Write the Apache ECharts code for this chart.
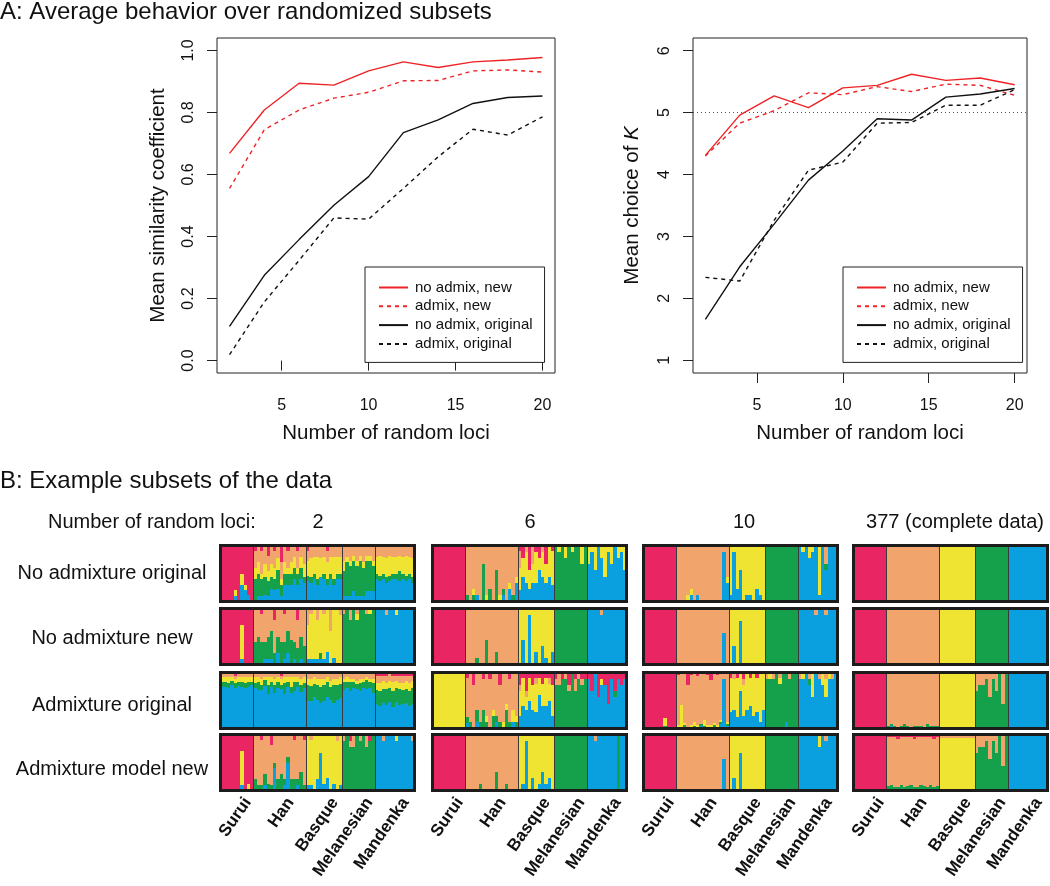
<!DOCTYPE html>
<html>
<head>
<meta charset="utf-8">
<script src="https://cdn.jsdelivr.net/npm/echarts@6/dist/echarts.min.js"></script>
<style>html,body{margin:0;padding:0;background:#fff}#c{width:1050px;height:886px}</style>
</head>
<body>
<div id="c"></div>
<script>
// ================= Panel A data =================
const lociX = [2, 4, 6, 8, 10, 12, 14, 16, 18, 20];
const seriesNames = ['no admix, new', 'admix, new', 'no admix, original', 'admix, original'];
const simNoAdmixNew  = [0.668, 0.808, 0.894, 0.888, 0.934, 0.963, 0.945, 0.963, 0.969, 0.977];
const simAdmixNew    = [0.555, 0.744, 0.808, 0.846, 0.865, 0.902, 0.903, 0.934, 0.937, 0.930];
const simNoAdmixOrig = [0.110, 0.275, 0.390, 0.501, 0.593, 0.735, 0.776, 0.829, 0.848, 0.853];
const simAdmixOrig   = [0.019, 0.189, 0.323, 0.460, 0.456, 0.555, 0.657, 0.746, 0.727, 0.786];
const kNoAdmixNew    = [4.31, 4.96, 5.27, 5.08, 5.40, 5.44, 5.62, 5.52, 5.56, 5.45];
const kAdmixNew      = [4.30, 4.83, 5.03, 5.32, 5.29, 5.42, 5.34, 5.46, 5.44, 5.28];
const kNoAdmixOrig   = [1.66, 2.51, 3.20, 3.91, 4.38, 4.90, 4.88, 5.25, 5.30, 5.39];
const kAdmixOrig     = [2.34, 2.28, 3.26, 4.07, 4.20, 4.83, 4.84, 5.12, 5.12, 5.37];
const xTicks = [5, 10, 15, 20];
const yTicksSim = [0, 0.2, 0.4, 0.6, 0.8, 1.0];
const yTicksK = [1, 2, 3, 4, 5, 6];
const trueK = 5;

// ================= Panel B data =================
const populations = ['Surui', 'Han', 'Basque', 'Melanesian', 'Mandenka'];
const popSizes = [10, 16, 11, 10, 12];
const lociSubsets = ['2', '6', '10', '377 (complete data)'];
const methods = ['No admixture original', 'No admixture new', 'Admixture original', 'Admixture model new'];
// cluster colours in order: Surui(pink), Han(orange), Basque(yellow), Melanesian(green), Mandenka(blue)
const clusterColors = ['#E92563', '#F1A46C', '#EEE431', '#15A04C', '#0AA0E0'];
// membership per individual: 5 base-36 weights [pink,orange,yellow,green,blue], normalised; "*n" = repeat
const mem_2_noAdmixOrig = [
  '90000*4 80101 90000 50203 70102 80001 90000',
  '13240 03241 14131 03231 23231 03222 13222 02232 33121 03223 13123 03223 02224 13123 02224 03213',
  '12314 02313 02314 02413 02304 02314 12313 02314 02413 02314 02314',
  '03251 02161 03161 02162 03161 02171 03151 02162 02162 03152',
  '02314 02414 02314 02313 02414 02314 02314 02324 02314 02414 02314 02313'];
const mem_2_noAdmixNew = [
  '90000*6 30601 90000*3',
  '06040 05050 15040 06031 05041 04051 26020 05032 06040 15031 04042 05040 06031 25030 05041 06030',
  '03601 01801 00901 02701 00811 01801 00702 04600 00801 00900 01800',
  '01090 00090 02080 00090 01180 00090 00090 01090 00190 00090',
  '00009*3 01008 00009*2 00108 00009*5'];
const mem_2_admixOrig = [
  '1233r 1233q 1243r 1223r 2233r 1232q 1233r 1243q 1233r 1232r',
  '1243r 1235p 1343o 1224s 1256m 1233r 1345n 1234q 2243q 1247m 1233r 1264n 1236o 1233r 1345o 1243q',
  '134ai 1349h 1248j 1349i 135ag 134ah 1239j 1448i 134bg 1349i 1249j',
  '1325p 1234r 1326o 1324q 1423p 1335o 1324q 1226q 1324q 1336n',
  '2448e 2459d 2358f 2449e 1448f 245ad 2348f 2449e 2448e 2358f 2459d 2349e'];
const mem_2_admixModelNew = [
  '90000*6 30601 90000 80100 90000',
  '08020 09010 18010 07021 08010 28010 05014 08020 07030 08011 04015 08020 17020 08011 06030 18010',
  '00901 01801 00900 00802 00306 00801 00702 00900 00801 01800 00901',
  '01080 00090 11070 02070 00090 01080 00090 02070 10080 00090',
  '00009*2 01008 00009*3 00108 00009*4 01008'];
const mem_6_noAdmixOrig = [
  '90000*10',
  '08010 09000 07110 08001 09000 03060 08100 07020 09000 04050 08100 07011 09000 06102 08010 05103',
  '13402 20304 01503 40302 03303 10503 20205 01404 30303 00504 10603',
  '00090 00180 00090 00270 00090 00180 00090 00090 00360 00090',
  '00306 00108 00405 00009 00207 00504 00108 00306 00009 00207 00108 00405'];
const mem_6_noAdmixNew = [
  '90000*10',
  '09000*3 08010 09000*2 05040 09000*2 07020 09000*6',
  '00900 00504 00900 00108 00900 00702 00900 00603 00801 00900 00702',
  '00090*10',
  '00009*4 01008 00009*7'];
const mem_6_admixOrig = [
  '00900*10',
  '17011 08010 27000 06021 08010 15030 07110 18000 06120 07011 26010 08100 05130 17010 06201 07110',
  '21402 10504 31203 10405 20403 11503 10306 20404 10504 11305 20502',
  '11070 02070 10080 01080 21060 00090 12060 01080 11070 10080',
  '10008 30006 00009 40005 10107 20007 50004 10008 30015 10008 20007 10008'];
const mem_6_admixModelNew = [
  '90000*10',
  '09000*4 08010 09000*4 06030 09000*2 08010 09000*3',
  '00900 00801 00108 00900 00702 00900 00801 00603 00801 00702 00900',
  '00090*10',
  '00009*2 01008 00009*6 00090 00009*2'];
const mem_10_noAdmixOrig = [
  '90000*10',
  '09000*3 08100 07101 09000 08001 09000*7 01008 05103',
  '00801 00108 00702 00405 00900 00801 00801 00900 00702 00801 00900',
  '00090*10',
  '00009 00108 00009 00207 00108 00009 00801 00009 03015 00009*3'];
const mem_10_noAdmixNew = [
  '90000*10',
  '09000*14 04005 09000',
  '00900 00603 00900 00207 00900*7',
  '00090*10',
  '00009*5 01008 00009*2 01008 00009*3'];
const mem_10_admixOrig = [
  'r0010*6 m0410 r0010*3',
  '1p110 0hb10 0p120 6m000 1p101 0o210 2p110 0p011 0n310 1p110 4o101 0p120 1p101 0n112 01008 0o111',
  '10603 01503 10702 00306 11502 00603 10504 00702 10603 00801 00603',
  '01080 00180 01080 00090 01180 00090 00081 01080 00090 00090',
  '01008 00108 00009 01017 00405 00009 01008 00207 01305 00108 01008 00009'];
const mem_10_admixModelNew = [
  '90000*10',
  '09000*14 04005 09000',
  '00900 00702 00900 00306 00900*7',
  '00090*10',
  '00009*6 00207 00009 01008 00009*3'];
const mem_377_noAdmixOrig = ['90000*10', '09000*16', '00900*11', '00090*10', '00009*12'];
const mem_377_noAdmixNew  = ['90000*10', '09000*16', '00900*11', '00090*10', '00009*12'];
const mem_377_admixOrig = [
  '90000*6 r0010 90000*3',
  '0q010 0p011 0q010 0r000 0q010 0p020 0q010 0r000 0q010 0p010 0q010 0r000 0p020 0q010 0q010 0p010',
  '00900*5 00r10 00900*5',
  '03060 02070 02070 01080 04050 01080 03060 00090 05040 00090',
  '00009*12'];
const mem_377_admixModelNew = [
  '90000*6 r0010 90000*3',
  '1o020 1o030 1p020 2o020 1o030 1p020 1o020 1o030 2o020 1p020 1o030 1o020 1p020 1o030 2o020 1o020',
  '11r10*5 02r10 11r10*5',
  '03060 02070 02070 01080 04050 01080 03060 00090 05040 00090',
  '00009*12'];

const panelRows = [
  [mem_2_noAdmixOrig, mem_6_noAdmixOrig, mem_10_noAdmixOrig, mem_377_noAdmixOrig],
  [mem_2_noAdmixNew, mem_6_noAdmixNew, mem_10_noAdmixNew, mem_377_noAdmixNew],
  [mem_2_admixOrig, mem_6_admixOrig, mem_10_admixOrig, mem_377_admixOrig],
  [mem_2_admixModelNew, mem_6_admixModelNew, mem_10_admixModelNew, mem_377_admixModelNew]];

// ================= build =================
const FONT = '"Liberation Sans", Arial, Helvetica, sans-serif';
const RED = '#EE2326', BLACK = '#111111', INK = '#111';

function parsePop(str) {
  const out = [];
  str.trim().split(/\s+/).forEach(tok => {
    const parts = tok.split('*');
    const n = parts[1] ? parseInt(parts[1], 10) : 1;
    const v = parts[0].split('').map(ch => parseInt(ch, 36));
    const s = v.reduce((a, b) => a + b, 0);
    for (let i = 0; i < n; i++) out.push(v.map(x => x / s));
  });
  return out;
}
function panelItems(mem) {
  const items = [];
  let idx = 0;
  mem.forEach((s, p) => {
    parsePop(s).forEach((q, j) => {
      items.push([idx, q[0], q[1], q[2], q[3], q[4], (p > 0 && j === 0) ? 1 : 0]);
      idx++;
    });
  });
  return items;
}
function makeRender(n) {
  return function (params, api) {
    const i = api.value(0);
    const q = [1, 2, 3, 4, 5].map(d => api.value(d));
    const isStart = api.value(6);
    const cs = params.coordSys;
    const xa = Math.round(api.coord([i, 0])[0]);
    const xb = Math.round(api.coord([i + 1, 0])[0]);
    const order = [4, 3, 2, 1, 0]; // bottom -> top : blue, green, yellow, orange, pink
    const children = [];
    let cum = 0;
    order.forEach((k, m) => {
      const yb = Math.round(api.coord([i, cum])[1]);
      cum += q[k];
      const yt = Math.round(api.coord([i, m === order.length - 1 ? 1 : Math.min(cum, 1)])[1]);
      if (yb - yt > 0) children.push({ type: 'rect',
        shape: { x: xa, y: yt, width: xb - xa, height: yb - yt }, style: { fill: clusterColors[k] } });
    });
    if (isStart) children.push({ type: 'line', shape: { x1: xa + 0.5, y1: cs.y, x2: xa + 0.5, y2: cs.y + cs.height },
      style: { stroke: '#3a3a3a', lineWidth: 1 } });
    if (params.dataIndex === n - 1) children.push({ type: 'rect',
      shape: { x: cs.x, y: cs.y, width: cs.width, height: cs.height },
      style: { fill: 'none', stroke: '#1c1c1c', lineWidth: 3 } });
    return { type: 'group', children: children };
  };
}

const grids = [], xAxes = [], yAxes = [], series = [];
// --- line charts ---
grids.push({ left: 217, top: 38, width: 338, height: 335, show: true, borderColor: '#222', borderWidth: 1 });
grids.push({ left: 693, top: 38, width: 334, height: 335, show: true, borderColor: '#222', borderWidth: 1 });
[0, 1].forEach(g => {
  xAxes.push({ type: 'value', gridIndex: g, min: 1.28, max: 20.72,
    axisLine: { show: false }, splitLine: { show: false },
    axisTick: { show: true, length: 10, customValues: xTicks, lineStyle: { color: '#222', width: 1 } },
    axisLabel: { customValues: xTicks, fontSize: 16, margin: 25, color: INK, fontFamily: FONT },
    name: 'Number of random loci', nameLocation: 'middle', nameGap: 50,
    nameTextStyle: { fontSize: 20.5, color: INK, fontFamily: FONT } });
});
yAxes.push({ type: 'value', gridIndex: 0, min: -0.04, max: 1.04,
  axisLine: { show: false }, splitLine: { show: false },
  axisTick: { show: true, length: 10, customValues: yTicksSim, lineStyle: { color: '#222', width: 1 } },
  axisLabel: { customValues: yTicksSim, formatter: v => Number(v).toFixed(1), rotate: 90, margin: 20,
    fontSize: 16, color: INK, fontFamily: FONT },
  name: 'Mean similarity coefficient', nameLocation: 'middle', nameGap: 48,
  nameTextStyle: { fontSize: 20.5, color: INK, fontFamily: FONT } });
yAxes.push({ type: 'value', gridIndex: 1, min: 0.795, max: 6.205,
  axisLine: { show: false }, splitLine: { show: false },
  axisTick: { show: true, length: 10, customValues: yTicksK, lineStyle: { color: '#222', width: 1 } },
  axisLabel: { customValues: yTicksK, formatter: v => String(Math.round(v)), rotate: 90, margin: 20,
    fontSize: 16, color: INK, fontFamily: FONT },
  name: 'Mean choice of {i|K}', nameLocation: 'middle', nameGap: 50,
  nameTextStyle: { fontSize: 20.5, color: INK, fontFamily: FONT,
    rich: { i: { fontStyle: 'italic', fontSize: 20.5, fontFamily: FONT, color: INK } } } });

const lineStyles = [
  { color: RED, type: 'solid' }, { color: RED, type: [4, 4] },
  { color: BLACK, type: 'solid' }, { color: BLACK, type: [4, 4] }];
const simSets = [simNoAdmixNew, simAdmixNew, simNoAdmixOrig, simAdmixOrig];
const kSets = [kNoAdmixNew, kAdmixNew, kNoAdmixOrig, kAdmixOrig];
[simSets, kSets].forEach((sets, g) => {
  sets.forEach((vals, s) => {
    const ser = { type: 'line', name: seriesNames[s], xAxisIndex: g, yAxisIndex: g,
      data: lociX.map((x, i) => [x, vals[i]]), symbol: 'none', showSymbol: false, silent: true,
      lineStyle: { color: lineStyles[s].color, type: lineStyles[s].type, width: 1.4 },
      itemStyle: { color: lineStyles[s].color }, z: 3 };
    if (g === 1 && s === 0) {
      ser.markLine = { silent: true, symbol: 'none', label: { show: false },
        lineStyle: { type: [1, 3], color: '#555', width: 1 }, data: [{ yAxis: trueK }] };
    }
    series.push(ser);
  });
});

// --- structure panels ---
const colLeft = [220.5, 432.5, 643.5, 853.5];
const panelW = 194;
const rowTop = [545.5, 608.5, 672.5, 734.5];
const panelH = 56;
const popStart = [];
popSizes.reduce((acc, n, i) => { popStart[i] = acc; return acc + n; }, 0);
const labelPos = popSizes.map((n, p) => popStart[p] + n / 2 + 3.3);

panelRows.forEach((row, r) => {
  row.forEach((mem, c) => {
    const gi = grids.length;
    const items = panelItems(mem);
    const n = items.length;
    grids.push({ left: colLeft[c], top: rowTop[r], width: panelW, height: panelH, show: false });
    const bottom = (r === panelRows.length - 1);
    xAxes.push({ type: 'value', gridIndex: gi, min: 0, max: n, show: bottom,
      axisLine: { show: false }, axisTick: { show: false }, splitLine: { show: false },
      axisLabel: { show: bottom, customValues: labelPos,
        formatter: v => { const p = labelPos.findIndex(t => Math.abs(t - v) < 1e-6); return p >= 0 ? populations[p] : ''; },
        rotate: 55, fontSize: 17, fontWeight: 'bold', color: INK, margin: 9, fontFamily: FONT } });
    yAxes.push({ type: 'value', gridIndex: gi, min: 0, max: 1, show: false });
    series.push({ type: 'custom', coordinateSystem: 'cartesian2d', xAxisIndex: gi, yAxisIndex: gi,
      renderItem: makeRender(n), data: items, clip: false, silent: true, z: 2 });
  });
});

const graphics = [
  { type: 'text', x: 0, y: 12, style: { text: 'A: Average behavior over randomized subsets', fontSize: 24, fontFamily: FONT, fill: INK, verticalAlign: 'middle' } },
  { type: 'text', x: 0, y: 481, style: { text: 'B: Example subsets of the data', fontSize: 24, fontFamily: FONT, fill: INK, verticalAlign: 'middle' } },
  { type: 'text', x: 48, y: 522, style: { text: 'Number of random loci:', fontSize: 20, fontFamily: FONT, fill: INK, verticalAlign: 'middle' } }
];
const headerX = [318, 530, 744, 955];
lociSubsets.forEach((t, c) => graphics.push({ type: 'text', x: headerX[c], y: 522,
  style: { text: t, fontSize: 20, fontFamily: FONT, fill: INK, align: 'center', verticalAlign: 'middle' } }));
const rowLabelY = [573, 638, 705, 769];
methods.forEach((t, r) => graphics.push({ type: 'text', x: 112, y: rowLabelY[r],
  style: { text: t, fontSize: 20, fontFamily: FONT, fill: INK, align: 'center', verticalAlign: 'middle' } }));

const legendBase = { orient: 'vertical', top: 267, data: seriesNames, selectedMode: false,
  itemWidth: 29, itemHeight: 14, itemGap: 3.8, padding: [13, 12, 11, 13],
  borderColor: '#222', borderWidth: 1, backgroundColor: '#fff',
  itemStyle: { opacity: 0, borderWidth: 0 },
  textStyle: { fontSize: 15, color: INK, fontFamily: FONT, lineHeight: 15, padding: [0, 0, 0, 2] } };

const chart = echarts.init(document.getElementById('c'), null, { renderer: 'canvas' });
chart.setOption({
  animation: false,
  backgroundColor: '#ffffff',
  textStyle: { fontFamily: FONT },
  grid: grids, xAxis: xAxes, yAxis: yAxes, series: series,
  legend: [Object.assign({ left: 365 }, legendBase), Object.assign({ left: 843 }, legendBase)],
  graphic: graphics
});
</script>
</body>
</html>
